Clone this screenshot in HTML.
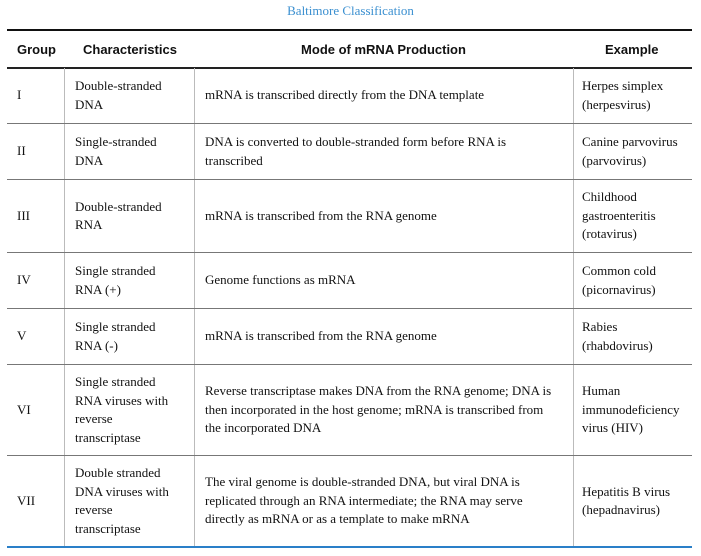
<html><head><style>
body{margin:0;width:701px;height:556px;background:#fff;position:relative;overflow:hidden;font-family:"Liberation Serif",serif;color:#111;}
.t{position:absolute;top:3px;left:0;width:701px;text-align:center;color:#3a8fd0;font-size:13px;}
.h{position:absolute;left:7px;width:685px;}
.c{position:absolute;display:flex;align-items:center;font-size:13px;line-height:18.5px;}
.hd{position:absolute;top:31px;height:36px;display:flex;align-items:center;font-family:"Liberation Sans",sans-serif;font-weight:bold;font-size:13px;color:#111;}
.v{position:absolute;width:1px;background:#bbb;top:68px;height:479px;}
</style></head><body>
<div class="t">Baltimore Classification</div>
<div class="h" style="top:29px;height:2px;background:#111"></div>
<div class="h" style="top:67px;height:1.5px;background:#222"></div>
<div class="hd" style="left:17px">Group</div>
<div class="hd" style="left:83px">Characteristics</div>
<div class="hd" style="left:194px;width:379px;justify-content:center">Mode of mRNA Production</div>
<div class="hd" style="left:605px">Example</div>
<div class="v" style="left:64px"></div><div class="v" style="left:194px"></div><div class="v" style="left:573px"></div>
<div class="h" style="top:123px;height:1px;background:#777"></div>
<div class="h" style="top:179px;height:1px;background:#777"></div>
<div class="h" style="top:252px;height:1px;background:#777"></div>
<div class="h" style="top:308px;height:1px;background:#777"></div>
<div class="h" style="top:364px;height:1px;background:#777"></div>
<div class="h" style="top:455px;height:1px;background:#777"></div>
<div class="h" style="top:546px;height:2px;background:#2a7fc8"></div>

<div class="c" style="left:17px;top:68px;height:55px">I</div>
<div class="c" style="left:75px;top:68px;height:55px">Double-stranded<br>DNA</div>
<div class="c" style="left:205px;top:68px;height:55px">mRNA is transcribed directly from the DNA template</div>
<div class="c" style="left:582px;top:68px;height:55px">Herpes simplex<br>(herpesvirus)</div>

<div class="c" style="left:17px;top:124px;height:55px">II</div>
<div class="c" style="left:75px;top:124px;height:55px">Single-stranded<br>DNA</div>
<div class="c" style="left:205px;top:124px;height:55px">DNA is converted to double-stranded form before RNA is<br>transcribed</div>
<div class="c" style="left:582px;top:124px;height:55px">Canine parvovirus<br>(parvovirus)</div>

<div class="c" style="left:17px;top:180px;height:72px">III</div>
<div class="c" style="left:75px;top:180px;height:72px">Double-stranded<br>RNA</div>
<div class="c" style="left:205px;top:180px;height:72px">mRNA is transcribed from the RNA genome</div>
<div class="c" style="left:582px;top:180px;height:72px">Childhood<br>gastroenteritis<br>(rotavirus)</div>

<div class="c" style="left:17px;top:253px;height:55px">IV</div>
<div class="c" style="left:75px;top:253px;height:55px">Single stranded<br>RNA (+)</div>
<div class="c" style="left:205px;top:253px;height:55px">Genome functions as mRNA</div>
<div class="c" style="left:582px;top:253px;height:55px">Common cold<br>(picornavirus)</div>

<div class="c" style="left:17px;top:309px;height:55px">V</div>
<div class="c" style="left:75px;top:309px;height:55px">Single stranded<br>RNA (-)</div>
<div class="c" style="left:205px;top:309px;height:55px">mRNA is transcribed from the RNA genome</div>
<div class="c" style="left:582px;top:309px;height:55px">Rabies<br>(rhabdovirus)</div>

<div class="c" style="left:17px;top:365px;height:90px">VI</div>
<div class="c" style="left:75px;top:365px;height:90px">Single stranded<br>RNA viruses with<br>reverse<br>transcriptase</div>
<div class="c" style="left:205px;top:365px;height:90px">Reverse transcriptase makes DNA from the RNA genome; DNA is<br>then incorporated in the host genome; mRNA is transcribed from<br>the incorporated DNA</div>
<div class="c" style="left:582px;top:365px;height:90px">Human<br>immunodeficiency<br>virus (HIV)</div>

<div class="c" style="left:17px;top:456px;height:90px">VII</div>
<div class="c" style="left:75px;top:456px;height:90px">Double stranded<br>DNA viruses with<br>reverse<br>transcriptase</div>
<div class="c" style="left:205px;top:456px;height:90px">The viral genome is double-stranded DNA, but viral DNA is<br>replicated through an RNA intermediate; the RNA may serve<br>directly as mRNA or as a template to make mRNA</div>
<div class="c" style="left:582px;top:456px;height:90px">Hepatitis B virus<br>(hepadnavirus)</div>
</body></html>
